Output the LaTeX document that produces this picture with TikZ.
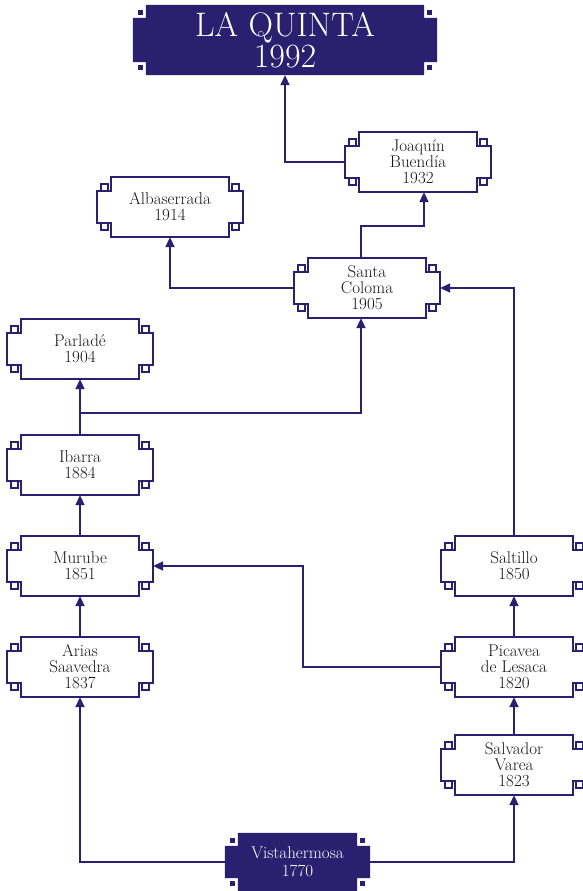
\documentclass[tikz,border=0pt]{standalone}
\usepackage{tikz}
\usetikzlibrary{arrows.meta, positioning, calc, backgrounds}
\definecolor{keyblue}{RGB}{43, 31, 112}
\definecolor{inkgray}{RGB}{20, 20, 28}
\tikzset{
  keybox/.style={
    rectangle, inner sep=0pt,
    minimum width=146pt, minimum height=60pt,
    align=center, text=inkgray,
    font=\fontsize{17}{16}\selectfont
  },
  headbox/.style={
    rectangle, inner sep=0pt,
    minimum width=304pt, minimum height=70pt,
    align=center, text=white,
    font=\fontsize{34}{31}\selectfont
  },
  rootbox/.style={
    rectangle, inner sep=0pt,
    minimum width=145pt, minimum height=58pt,
    align=center, text=white,
    font=\fontsize{17}{18}\selectfont
  },
  frame/.style={draw=keyblue, line width=1.5pt, line join=miter},
  link/.style={draw=keyblue, line width=2pt, -{Triangle[length=10pt, width=9pt]}}
}
% marco con esquinas de greca
\newcommand{\keyframe}[1]{%
  \draw[frame] ($(#1.north west)+(14,0)$) -- ($(#1.north east)+(-14,0)$) -- ++(0,14)
    -- ($(#1.north east)+(0,14)$) -- ($(#1.south east)+(0,-14)$) -- ++(-14,0)
    -- ($(#1.south east)+(-14,0)$) -- ($(#1.south west)+(14,0)$) -- ++(0,-14)
    -- ($(#1.south west)+(0,-14)$) -- ($(#1.north west)+(0,14)$) -- ++(14,0) -- cycle;
  \draw[frame] ($(#1.north west)+(4,7)$) rectangle ($(#1.north west)+(11,14)$);
  \draw[frame] ($(#1.north east)+(-11,7)$) rectangle ($(#1.north east)+(-4,14)$);
  \draw[frame] ($(#1.south west)+(4,-14)$) rectangle ($(#1.south west)+(11,-7)$);
  \draw[frame] ($(#1.south east)+(-11,-14)$) rectangle ($(#1.south east)+(-4,-7)$);
}
% marco relleno
\newcommand{\fillframe}[1]{%
  \fill[keyblue] ($(#1.north west)+(13,0)$) -- ($(#1.north east)+(-13,0)$) -- ++(0,13)
    -- ($(#1.north east)+(0,13)$) -- ($(#1.south east)+(0,-13)$) -- ++(-13,0)
    -- ($(#1.south east)+(-13,0)$) -- ($(#1.south west)+(13,0)$) -- ++(0,-13)
    -- ($(#1.south west)+(0,-13)$) -- ($(#1.north west)+(0,13)$) -- ++(13,0) -- cycle;
  \fill[keyblue] ($(#1.north west)+(5,5)$) rectangle ++(5,5);
  \fill[keyblue] ($(#1.north east)+(-10,5)$) rectangle ++(5,5);
  \fill[keyblue] ($(#1.south west)+(5,-10)$) rectangle ++(5,5);
  \fill[keyblue] ($(#1.south east)+(-10,-10)$) rectangle ++(5,5);
}

\begin{document}
\begin{tikzpicture}[x=1pt, y=-1pt]
\useasboundingbox (0,0) rectangle (582,891);
% Cabecera
\node[headbox] (quinta) at (285,40) {LA QUINTA\\1992};
% Rama Santa Coloma
\node[keybox] (joaquin) at (418,162) {Joaquín\\Buendía\\1932};
\node[keybox] (albaserrada) at (170,207) {Albaserrada\\1914};
\node[keybox] (santa) at (367,288) {Santa\\Coloma\\1905};
% Columna izquierda
\node[keybox] (parlade) at (80,349) {Parladé\\1904};
\node[keybox] (ibarra) at (80,465) {Ibarra\\1884};
\node[keybox] (murube) at (80,566) {Murube\\1851};
\node[keybox] (arias) at (80,667) {Arias\\Saavedra\\1837};
% Columna derecha
\node[keybox] (saltillo) at (514,566) {Saltillo\\1850};
\node[keybox] (picavea) at (514,667) {Picavea\\de Lesaca\\1820};
\node[keybox] (varea) at (514,765) {Salvador\\Varea\\1823};
% Origen
\node[rootbox] (vista) at (297.5,862) {Vistahermosa\\1770};
% Puntos de paso
\coordinate (bendpm) at (303,616);
\coordinate (bendis) at (80,413);
\coordinate (bendsj) at (424,226);
% Marcos
\foreach \n in {joaquin, albaserrada, santa, parlade, ibarra, murube, arias, saltillo, picavea, varea} {\keyframe{\n}}
\begin{scope}[on background layer]
\fillframe{quinta}
\fillframe{vista}
\end{scope}
% Conexiones
\draw[link] (vista.west) -| (arias.south);
\draw[link] (vista.east) -| (varea.south);
\draw[link] (varea) -- (picavea);
\draw[link] (picavea) -- (saltillo);
\draw[link] (picavea.west) -| (bendpm) |- (murube.east);
\draw[link] (arias) -- (murube);
\draw[link] (murube) -- (ibarra);
\draw[link] (ibarra) -- (parlade);
\draw[link] (bendis) -| ([xshift=-6pt]santa.south);
\draw[link] (saltillo.north) |- (santa.east);
\draw[link] (santa.west) -| (albaserrada.south);
\draw[link] ([xshift=-6pt]santa.north) |- (bendsj) -- ([xshift=6pt]joaquin.south);
\draw[link] (joaquin.west) -| (quinta.south);
\end{tikzpicture}
\end{document}
